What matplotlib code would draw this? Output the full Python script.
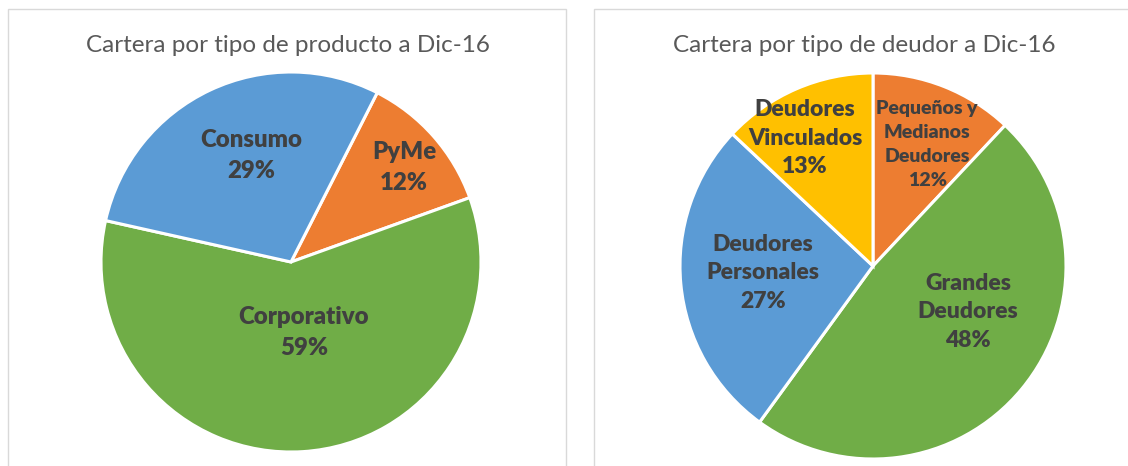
import numpy as np
import matplotlib
matplotlib.use("Agg")
import matplotlib.pyplot as plt
from matplotlib.patches import Rectangle

# ---- data ----
prod_labels = ["PyMe", "Corporativo", "Consumo"]
prod_values = [12, 59, 29]
prod_colors = ["#ED7D31", "#70AD47", "#5B9BD5"]

deud_labels = ["Pequeños y\nMedianos\nDeudores", "Grandes\nDeudores",
               "Deudores\nPersonales", "Deudores\nVinculados"]
deud_values = [12, 48, 27, 13]
deud_colors = ["#ED7D31", "#70AD47", "#5B9BD5", "#FFC000"]

titles = ["Cartera por tipo de producto a Dic-16", "Cartera por tipo de deudor a Dic-16"]

W, H = 1128, 466
fig = plt.figure(figsize=(W / 100, H / 100), dpi=100)
fig.patch.set_facecolor("white")

def px_axes(cx, cy, r):
    return fig.add_axes([(cx - r) / W, (H - cy - r) / H, 2 * r / W, 2 * r / H])

# panel borders
for x0, x1 in [(8, 566), (594, 1140)]:
    fig.patches.append(Rectangle((x0 / W, -0.05), (x1 - x0) / W, (H - 9) / H + 0.05,
                                 transform=fig.transFigure, fill=False,
                                 edgecolor="#D9D9D9", linewidth=1.0))

FONT = ["Lato", "DejaVu Sans"]
LABEL_COLOR = "#404040"

def draw_pie(ax, values, colors, labels, startangle, label_pos, fsizes, lsp):
    wedges, _ = ax.pie(values, colors=colors, startangle=startangle, counterclock=False,
                       radius=1.0, wedgeprops=dict(edgecolor="white", linewidth=2.2))
    total = sum(values)
    for w, lab, v, (rf, dang), fs, ls in zip(wedges, labels, values, label_pos, fsizes, lsp):
        mid = np.deg2rad((w.theta1 + w.theta2) / 2 + dang)
        x, y = rf * np.cos(mid), rf * np.sin(mid)
        ax.text(x, y, f"{lab}\n{round(100 * v / total)}%", ha="center", va="center",
                fontsize=fs, fontweight="heavy", color=LABEL_COLOR, family=FONT,
                linespacing=ls)
    ax.set_xlim(-1, 1)
    ax.set_ylim(-1, 1)
    ax.set_aspect("auto")
    ax.axis("off")

ax1 = px_axes(291, 262, 190)
draw_pie(ax1, prod_values, prod_colors, prod_labels, 63,
         [(0.776, -1.4), (0.375, 6.8), (0.60, -5.0)], [17.3, 17.3, 17.3], [1.5, 1.5, 1.5])

ax2 = px_axes(873, 266, 193)
draw_pie(ax2, deud_values, deud_colors, deud_labels, 90,
         [(0.69, -2.4), (0.547, 13.8), (0.57, -1.8), (0.75, 4.6)], [14, 16.5, 16.5, 16.5],
         [1.5, 1.45, 1.45, 1.45])

fig.text(288 / W, 1 - 46 / H, titles[0], ha="center", va="center", fontsize=17.5,
         color="#595959", family=FONT)
fig.text(864 / W, 1 - 46 / H, titles[1], ha="center", va="center", fontsize=17.5,
         color="#595959", family=FONT)

fig.savefig("out.png", dpi=100, facecolor="white")
